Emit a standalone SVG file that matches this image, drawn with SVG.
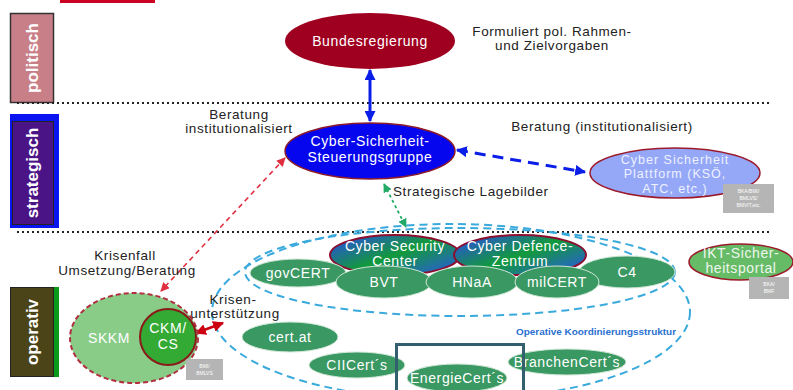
<svg xmlns="http://www.w3.org/2000/svg" width="793" height="390" viewBox="0 0 793 390">
<style>
text{font-family:"Liberation Sans",Arial,sans-serif}
.lbl{font-size:13.5px;letter-spacing:0.6px;fill:#222;text-anchor:middle}
.nt{font-size:14px;letter-spacing:0.6px;fill:#fff;text-anchor:middle}
.pt{font-size:12.5px;letter-spacing:1px;fill:#eef1ff;text-anchor:middle}
.side{font-size:17px;font-weight:bold;fill:#fff;text-anchor:middle}
.grn{fill:#3a9862;stroke:#cfe6d6;stroke-width:1}
.gbox{fill:#b5b5b5}
.gt{font-size:5px;fill:#fff;text-anchor:middle}
.dot{stroke:#222;stroke-width:2.2;stroke-dasharray:2 3;fill:none}
.dash{fill:none;stroke:#3aaadd;stroke-width:2;stroke-dasharray:8 5}
</style>
<defs>
<linearGradient id="gb" x1="0" y1="0.1" x2="1" y2="0.9">
<stop offset="0" stop-color="#2a4fe0"/>
<stop offset="0.5" stop-color="#129a3a"/>
<stop offset="1" stop-color="#2a5ae0"/>
</linearGradient>
<marker id="mb" viewBox="0 0 10 10" refX="9" refY="5" markerWidth="11" markerHeight="11" markerUnits="userSpaceOnUse" orient="auto-start-reverse"><path d="M0,0 L10,5 L0,10 z" fill="#0a1ee8"/></marker>
<marker id="mr" viewBox="0 0 10 10" refX="9" refY="5" markerWidth="9" markerHeight="9" markerUnits="userSpaceOnUse" orient="auto-start-reverse"><path d="M0,0 L10,5 L0,10 z" fill="#e03040"/></marker>
<marker id="mr2" viewBox="0 0 10 10" refX="9" refY="5" markerWidth="11" markerHeight="11" markerUnits="userSpaceOnUse" orient="auto-start-reverse"><path d="M0,0 L10,5 L0,10 z" fill="#cc0011"/></marker>
<marker id="mg" viewBox="0 0 10 10" refX="9" refY="5" markerWidth="9" markerHeight="9" markerUnits="userSpaceOnUse" orient="auto-start-reverse"><path d="M0,0 L10,5 L0,10 z" fill="#22aa66"/></marker>
</defs>
<rect width="793" height="390" fill="#fff"/>
<rect x="60" y="0" width="95" height="3" fill="#cc0022"/>

<!-- side labels -->
<g id="politisch">
<rect x="10.5" y="13.5" width="43" height="89" fill="#c97f88" stroke="#333" stroke-width="1.5"/>
<text class="side" transform="translate(38,58) rotate(-90)">politisch</text>
</g>
<g id="strategisch">
<rect x="10" y="114" width="49" height="114" fill="#0a14f0"/>
<rect x="12.5" y="121.5" width="41" height="103" fill="#4a1486" stroke="#222" stroke-width="1"/>
<text class="side" transform="translate(38,173) rotate(-90)">strategisch</text>
</g>
<g id="operativ">
<rect x="10" y="287" width="49" height="90" fill="#0a9a1a"/>
<rect x="10.5" y="287.5" width="43" height="89" fill="#4b4418" stroke="#222" stroke-width="1"/>
<text class="side" transform="translate(38,332) rotate(-90)">operativ</text>
</g>

<line class="dot" x1="17" y1="103" x2="772" y2="103"/>
<line class="dot" x1="17" y1="232" x2="772" y2="232"/>

<!-- coordination structure -->
<g id="koordinierung">
<ellipse class="dash" cx="451" cy="312" rx="239" ry="88"/>
<ellipse class="dash" cx="460" cy="272" rx="215" ry="44"/>
<text x="596" y="335" font-size="8.5" font-weight="bold" fill="#2a70d0" text-anchor="middle" textLength="160" lengthAdjust="spacingAndGlyphs">Operative Koordinierungsstruktur</text>
</g>

<!-- connectors -->
<g id="connectors">
<line x1="370" y1="70" x2="370" y2="121" stroke="#0a1ee8" stroke-width="3" marker-start="url(#mb)" marker-end="url(#mb)"/>
<line x1="457" y1="150" x2="585" y2="172" stroke="#0a1ee8" stroke-width="3" stroke-dasharray="11 7" marker-start="url(#mb)" marker-end="url(#mb)"/>
<line x1="285" y1="158" x2="161" y2="291" stroke="#e03040" stroke-width="1.6" stroke-dasharray="5 4" marker-start="url(#mr)" marker-end="url(#mr)"/>
<line x1="384" y1="184" x2="406" y2="227" stroke="#22aa66" stroke-width="1.8" stroke-dasharray="3 3" marker-start="url(#mg)" marker-end="url(#mg)"/>
<line x1="196" y1="333" x2="223" y2="323" stroke="#cc0011" stroke-width="2.5" marker-start="url(#mr2)" marker-end="url(#mr2)"/>
</g>

<!-- annotations -->
<g id="labels">
<text class="lbl" x="552" y="36">Formuliert pol. Rahmen-</text>
<text class="lbl" x="552" y="50">und Zielvorgaben</text>
<text class="lbl" x="239" y="119">Beratung</text>
<text class="lbl" x="239" y="133">institutionalisiert</text>
<text class="lbl" x="602" y="131">Beratung (institutionalisiert)</text>
<text class="lbl" x="393" y="196" style="text-anchor:start">Strategische Lagebilder</text>
<text class="lbl" x="125" y="260">Krisenfall</text>
<text class="lbl" x="127" y="275">Umsetzung/Beratung</text>
<text class="lbl" x="233" y="304">Krisen-</text>
<text class="lbl" x="235" y="318">unterstützung</text>
</g>

<g id="bundesregierung">
<ellipse cx="370" cy="41" rx="85" ry="28" fill="#a00020"/>
<text class="nt" x="370" y="46">Bundesregierung</text>
</g>
<g id="steuerungsgruppe">
<ellipse cx="370" cy="151" rx="85" ry="28" fill="#0505ee" stroke="#8b1a2b" stroke-width="1.5"/>
<text class="nt" x="370" y="146">Cyber-Sicherheit-</text>
<text class="nt" x="370" y="162">Steuerungsgruppe</text>
</g>
<g id="plattform">
<ellipse cx="675" cy="173" rx="85" ry="25" fill="#95a8f8" stroke="#9b1a2b" stroke-width="1.5"/>
<text class="pt" x="675" y="163.5">Cyber Sicherheit</text>
<text class="pt" x="675" y="178">Plattform (KSÖ,</text>
<text class="pt" x="675" y="192.5">ATC, etc.)</text>
<rect class="gbox" x="723" y="184" width="51" height="29"/>
<text class="gt" x="748.5" y="193">BKA/BMI/</text>
<text class="gt" x="748.5" y="200">BMLVS/</text>
<text class="gt" x="748.5" y="207">BMVIT,etc.</text>
</g>

<g id="skkm">
<ellipse cx="134" cy="338" rx="64" ry="45" fill="#88cc88" stroke="#b03040" stroke-width="2" stroke-dasharray="5 3"/>
<text class="nt" x="109" y="343">SKKM</text>
</g>
<g id="ckm">
<circle cx="168" cy="337" r="28" fill="#33aa33" stroke="#8b1a1a" stroke-width="2"/>
<text class="nt" x="168" y="333">CKM/</text>
<text class="nt" x="168" y="349">CS</text>
<rect class="gbox" x="186" y="359" width="37" height="21"/>
<text class="gt" x="204.5" y="368">BMI/</text>
<text class="gt" x="204.5" y="375">BMLVS</text>
</g>

<g id="csc">
<ellipse cx="395" cy="255" rx="65" ry="20" fill="url(#gb)" stroke="#8b1030" stroke-width="2"/>
<text class="nt" x="395" y="251">Cyber Security</text>
<text class="nt" x="395" y="266">Center</text>
</g>
<g id="cdz">
<ellipse cx="520" cy="255" rx="66" ry="20" fill="url(#gb)" stroke="#8b1030" stroke-width="2"/>
<text class="nt" x="520" y="251">Cyber Defence-</text>
<text class="nt" x="520" y="266">Zentrum</text>
</g>
<g id="c4">
<ellipse class="grn" cx="627" cy="272" rx="48" ry="16"/>
<text class="nt" x="627" y="277">C4</text>
</g>
<g id="govcert">
<ellipse class="grn" cx="298" cy="273" rx="48" ry="14"/>
<text class="nt" x="298" y="278">govCERT</text>
</g>
<g id="bvt">
<ellipse class="grn" cx="384" cy="282" rx="48" ry="16"/>
<text class="nt" x="384" y="287">BVT</text>
</g>
<g id="hnaa">
<ellipse class="grn" cx="472" cy="282" rx="46" ry="16"/>
<text class="nt" x="472" y="287">HNaA</text>
</g>
<g id="milcert">
<ellipse class="grn" cx="557" cy="282" rx="42" ry="16"/>
<text class="nt" x="557" y="287">milCERT</text>
</g>
<g id="certat">
<ellipse class="grn" cx="290" cy="337" rx="48" ry="15"/>
<text class="nt" x="290" y="342">cert.at</text>
</g>
<g id="ciicerts">
<ellipse class="grn" cx="357" cy="365" rx="48" ry="13"/>
<text class="nt" x="357" y="370">CIICert´s</text>
</g>
<g id="energiecerts">
<ellipse class="grn" cx="457" cy="378" rx="50" ry="14"/>
<text class="nt" x="457" y="383">EnergieCert´s</text>
</g>
<g id="branchencerts">
<ellipse class="grn" cx="567" cy="362" rx="59" ry="13"/>
<text class="nt" x="567" y="367">BranchenCert´s</text>
</g>
<rect x="396.5" y="344.5" width="127" height="52" fill="none" stroke="#33606e" stroke-width="3"/>

<g id="ikt">
<ellipse cx="741" cy="262" rx="52" ry="18" fill="#66bb66" stroke="#9b1a2b" stroke-width="1.5"/>
<text class="nt" x="741" y="258" style="fill:#eef6ee">IKT-Sicher-</text>
<text class="nt" x="741" y="273" style="fill:#eef6ee">heitsportal</text>
<rect class="gbox" x="749" y="277" width="40" height="22"/>
<text class="gt" x="769" y="286">BKA/</text>
<text class="gt" x="769" y="293">BMF</text>
</g>
</svg>
